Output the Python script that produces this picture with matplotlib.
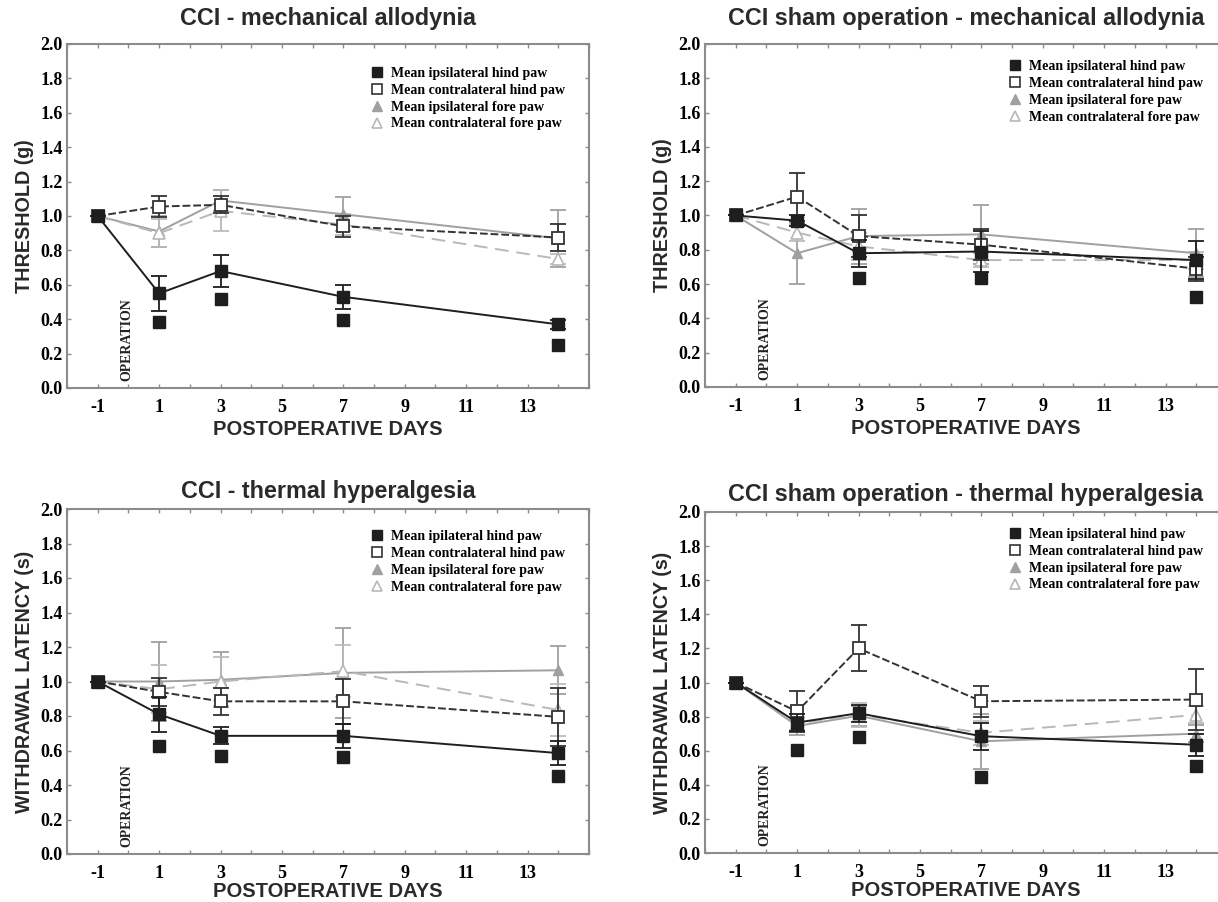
import matplotlib
matplotlib.use("Agg")
import matplotlib.pyplot as plt
from matplotlib.lines import Line2D
from matplotlib.ticker import MultipleLocator

plt.rcParams["axes.unicode_minus"] = False

# ------------------------------------------------------------
# data (normalised to day -1)
# ------------------------------------------------------------
days = [-1, 1, 3, 7, 14]

# A: CCI - mechanical allodynia
a_ipsi_hind = [1.0, 0.55, 0.68, 0.53, 0.37]
a_ipsi_hind_err = [0, 0.10, 0.095, 0.07, 0.025]
a_contra_hind = [1.0, 1.055, 1.065, 0.94, 0.875]
a_contra_hind_err = [0, 0.06, 0.05, 0.06, 0.08]
a_ipsi_fore = [1.0, 0.91, 1.09, 1.01, 0.87]
a_ipsi_fore_err = [0, 0.09, 0.06, 0.10, 0.165]
a_contra_fore = [1.0, 0.90, 1.03, 0.95, 0.75]
a_contra_fore_err = [0, 0.08, 0.12, 0.06, 0.03]
a_sig_days = [1, 3, 7, 14]
a_sig = [0.385, 0.52, 0.395, 0.25]

# B: CCI sham operation - mechanical allodynia
b_ipsi_hind = [1.0, 0.97, 0.78, 0.79, 0.74]
b_ipsi_hind_err = [0, 0.03, 0.08, 0.12, 0.11]
b_contra_hind = [1.0, 1.11, 0.88, 0.83, 0.69]
b_contra_hind_err = [0, 0.14, 0.12, 0.09, 0.07]
b_ipsi_fore = [1.0, 0.78, 0.88, 0.89, 0.78]
b_ipsi_fore_err = [0, 0.18, 0.16, 0.17, 0.14]
b_contra_fore = [1.0, 0.90, 0.82, 0.74, 0.74]
b_contra_fore_err = [0, 0.05, 0.08, 0.04, 0.05]
b_sig_days = [3, 7, 14]
b_sig = [0.635, 0.635, 0.525]

# C: CCI - thermal hyperalgesia
c_ipsi_hind = [1.0, 0.81, 0.685, 0.685, 0.585]
c_ipsi_hind_err = [0, 0.10, 0.05, 0.07, 0.07]
c_contra_hind = [1.0, 0.94, 0.885, 0.885, 0.795]
c_contra_hind_err = [0, 0.08, 0.08, 0.13, 0.17]
c_ipsi_fore = [1.0, 1.0, 1.01, 1.05, 1.065]
c_ipsi_fore_err = [0, 0.23, 0.16, 0.26, 0.14]
c_contra_fore = [1.0, 0.955, 1.0, 1.06, 0.835]
c_contra_fore_err = [0, 0.14, 0.14, 0.15, 0.15]
c_sig_days = [1, 3, 7, 14]
c_sig = [0.625, 0.57, 0.565, 0.455]

# D: CCI sham operation - thermal hyperalgesia
d_ipsi_hind = [1.0, 0.765, 0.82, 0.685, 0.635]
d_ipsi_hind_err = [0, 0.05, 0.05, 0.08, 0.065]
d_contra_hind = [1.0, 0.83, 1.2, 0.89, 0.90]
d_contra_hind_err = [0, 0.12, 0.135, 0.09, 0.18]
d_ipsi_fore = [1.0, 0.745, 0.805, 0.655, 0.70]
d_ipsi_fore_err = [0, 0.05, 0.06, 0.16, 0.05]
d_contra_fore = [1.0, 0.76, 0.81, 0.705, 0.81]
d_contra_fore_err = [0, 0.04, 0.07, 0.07, 0.05]
d_sig_days = [1, 3, 7, 14]
d_sig = [0.605, 0.68, 0.445, 0.51]

legend_std = ["Mean ipsilateral hind paw", "Mean contralateral hind paw",
              "Mean ipsilateral fore paw", "Mean contralateral fore paw"]
legend_c = ["Mean ipilateral hind paw", "Mean contralateral hind paw",
            "Mean ipsilateral fore paw", "Mean contralateral fore paw"]

x_ticks = [-1, 1, 3, 5, 7, 9, 11, 13]

# ------------------------------------------------------------
# styles
# ------------------------------------------------------------
BLACK = "#1e1e1e"
DARK = "#333333"
GREY = "#a0a0a0"
LIGHT = "#b8b8b8"
SPINE = "#8c8c8c"
TEXT = "#2a2a2a"
SERIF = "Liberation Serif"
SANS = "Liberation Sans"

W, H = 1218, 902
fig = plt.figure(figsize=(W / 100, H / 100), dpi=100)


def px_axes(left, top, right, bottom):
    return fig.add_axes([left / W, 1 - bottom / H, (right - left) / W, (bottom - top) / H])


def style_ticks(ax):
    for lab in ax.get_xticklabels() + ax.get_yticklabels():
        lab.set_fontfamily(SERIF)
        lab.set_fontweight("bold")
        lab.set_fontsize(13)


def panel(ax, title, ylabel, ih, ihe, ch, che, ifo, ife, cf, cfe, sdays, sig,
          labels, leg_y, title_pad, xlab_pad):
    ekw = dict(capsize=6, elinewidth=1.3, capthick=1.3)
    # fore paws (grey) first, hind paws on top
    ax.errorbar(days, ifo, yerr=ife, color=GREY, ecolor=GREY, lw=1.4, ls="-",
                marker="^", ms=7.5, mfc=GREY, mec=GREY, zorder=2, **ekw)
    ax.errorbar(days, cf, yerr=cfe, color=LIGHT, ecolor=LIGHT, lw=1.4, dashes=(7, 4),
                marker="^", ms=8, mfc="white", mec=LIGHT, mew=1.2, zorder=2, **ekw)
    ax.errorbar(days, ch, yerr=che, color=DARK, ecolor=DARK, lw=1.4, dashes=(4, 1.5),
                marker="s", ms=8, mfc="white", mec=DARK, mew=1.3, zorder=3, **ekw)
    ax.errorbar(days, ih, yerr=ihe, color=BLACK, ecolor=BLACK, lw=1.4, ls="-",
                marker="s", ms=8, mfc=BLACK, mec=BLACK, zorder=4, **ekw)
    ax.plot(sdays, sig, ls="none", marker="s", ms=8, color=BLACK, zorder=4)

    ax.set_xlim(-2, 15)
    ax.set_ylim(0, 2.0)
    ax.set_xticks(x_ticks)
    ax.xaxis.set_minor_locator(MultipleLocator(1))
    ax.set_yticks([i * 0.2 for i in range(11)])
    ax.set_yticklabels([f"{i * 0.2:.1f}" for i in range(11)])
    ax.tick_params(which="both", direction="in", top=True, right=True,
                   color=SPINE, length=3, width=1)
    ax.tick_params(axis="x", pad=8)
    ax.tick_params(axis="y", pad=3)
    style_ticks(ax)
    for s in ax.spines.values():
        s.set_color(SPINE)
        s.set_linewidth(1.5)

    ax.set_title(title, fontfamily=SANS, fontweight="bold", fontsize=16.8,
                 color=TEXT, pad=title_pad)
    ax.set_xlabel("POSTOPERATIVE DAYS", fontfamily=SANS, fontweight="bold",
                  fontsize=14.5, color=TEXT, labelpad=xlab_pad)
    ax.set_ylabel(ylabel, fontfamily=SANS, fontweight="bold", fontsize=14.2,
                  color=TEXT, labelpad=5)

    ax.text(-0.05, 0.04, "OPERATION", rotation=90, ha="center", va="bottom",
            fontfamily=SERIF, fontweight="bold", fontsize=10, color="#222222")

    handles = [
        Line2D([], [], ls="none", marker="s", ms=7, mfc=BLACK, mec=BLACK),
        Line2D([], [], ls="none", marker="s", ms=7.5, mfc="white", mec=DARK, mew=1.2),
        Line2D([], [], ls="none", marker="^", ms=7, mfc=GREY, mec=GREY),
        Line2D([], [], ls="none", marker="^", ms=7.5, mfc="white", mec=LIGHT, mew=1.2),
    ]
    ax.legend(handles, labels, loc="upper left", bbox_to_anchor=(0.57, leg_y),
              frameon=False, handlelength=1.0, handletextpad=0.5,
              labelspacing=0.28, borderaxespad=0,
              prop={"family": SERIF, "weight": "bold", "size": 10})


ax_a = px_axes(67, 44, 589, 388)
ax_b = px_axes(705, 44, 1227, 387)
ax_c = px_axes(67, 509, 589, 854)
ax_d = px_axes(705, 512, 1227, 853)

panel(ax_a, "CCI - mechanical allodynia", "THRESHOLD (g)",
      a_ipsi_hind, a_ipsi_hind_err, a_contra_hind, a_contra_hind_err,
      a_ipsi_fore, a_ipsi_fore_err, a_contra_fore, a_contra_fore_err,
      a_sig_days, a_sig, legend_std, 0.95, 14, 2.5)
panel(ax_b, "CCI sham operation - mechanical allodynia", "THRESHOLD (g)",
      b_ipsi_hind, b_ipsi_hind_err, b_contra_hind, b_contra_hind_err,
      b_ipsi_fore, b_ipsi_fore_err, b_contra_fore, b_contra_fore_err,
      b_sig_days, b_sig, legend_std, 0.97, 14, 2.5)
panel(ax_c, "CCI - thermal hyperalgesia", "WITHDRAWAL LATENCY (s)",
      c_ipsi_hind, c_ipsi_hind_err, c_contra_hind, c_contra_hind_err,
      c_ipsi_fore, c_ipsi_fore_err, c_contra_fore, c_contra_fore_err,
      c_sig_days, c_sig, legend_c, 0.955, 8, 0)
panel(ax_d, "CCI sham operation - thermal hyperalgesia", "WITHDRAWAL LATENCY (s)",
      d_ipsi_hind, d_ipsi_hind_err, d_contra_hind, d_contra_hind_err,
      d_ipsi_fore, d_ipsi_fore_err, d_contra_fore, d_contra_fore_err,
      d_sig_days, d_sig, legend_std, 0.97, 8, 0)

fig.savefig("out.png", dpi=100, facecolor="white")
